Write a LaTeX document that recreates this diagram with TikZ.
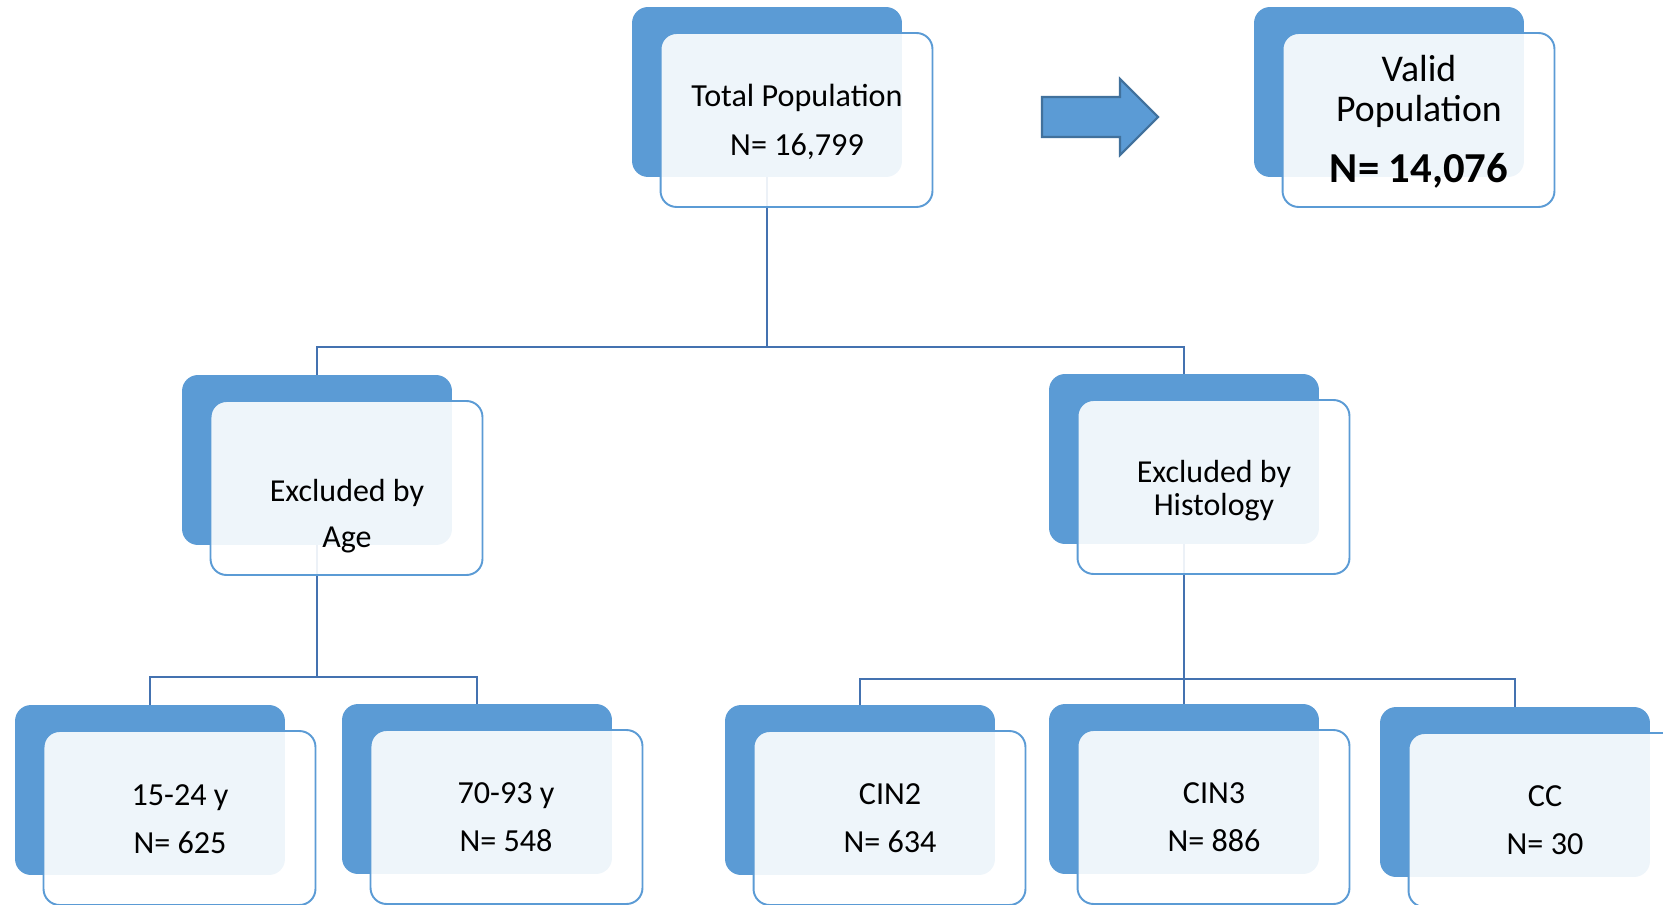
\documentclass[tikz,border=0pt]{standalone}
\usepackage{fontspec}
\setmainfont{Carlito}
\definecolor{boxblue}{RGB}{91,155,213}
\definecolor{linkblue}{RGB}{68,114,176}
\definecolor{arrowedge}{RGB}{65,113,156}

\begin{document}
\begin{tikzpicture}[
  x=0.02cm, y=-0.02cm,
  back/.style={fill=boxblue, rounded corners=0.32cm, minimum width=5.4cm,
    minimum height=3.4cm, inner sep=0pt, outer sep=0pt},
  front/.style={draw=boxblue, line width=1.1pt, fill=white, fill opacity=0.9,
    rounded corners=0.32cm, minimum width=5.44cm, minimum height=3.48cm,
    inner sep=0pt, outer sep=0pt},
  link/.style={draw=linkblue, line width=1.6pt},
  txt/.style={align=center, font=\fontsize{18.3}{27.5}\selectfont}
  ]
  \useasboundingbox (0,0) rectangle (1663,905);

  % back boxes
  \foreach \n/\x/\y in {total/767/92, valid/1389/92, age/317/460, hist/1184/459,
      ya/150/790, yb/477/789, cintwo/860/790, cinthree/1184/789, cc/1515/792} {
    \node[back] (back-\n) at (\x,\y) {};
  }

  % tree lines
  \path (back-total.south) ++(0,170) coordinate (busT);
  \draw[link] (back-total.south) -- (busT) -| (back-age.north);
  \draw[link] (busT) -| (back-hist.north);
  \path (back-age.south) ++(0,132) coordinate (busA);
  \draw[link] (back-age.south) -- (busA) -| (back-ya.north);
  \draw[link] (busA) -| (back-yb.north);
  \path (back-hist.south) ++(0,135) coordinate (busH);
  \draw[link] (back-hist.south) -- (busH) -| (back-cintwo.north);
  \draw[link] (busH) -| (back-cinthree.north);
  \draw[link] (busH) -| (back-cc.north);

  % front boxes
  \foreach \n in {total, valid, age, hist, ya, yb, cintwo, cinthree, cc} {
    \node[front] (\n) at ([shift={(29.5,28)}]back-\n.center) {};
  }

  % block arrow
  \draw[fill=boxblue, draw=arrowedge, line width=1.2pt]
    (1042,97) -- (1120,97) -- (1120,79) -- (1158,117) -- (1120,155)
    -- (1120,137) -- (1042,137) -- cycle;

  % texts
  \node[txt, font=\fontsize{18.3}{27.8}\selectfont] (totaltxt) at (797,122) {Total Population\\N= 16,799};
  \node[txt, font=\fontsize{21.5}{22.7}\selectfont] (validtxt) at (1419,91) {Valid\\Population};
  \node[font=\bfseries\fontsize{24.3}{27}\selectfont] (validn) at (1419,171) {N= 14,076};
  \node[txt, font=\fontsize{18.2}{26}\selectfont] (agetxt) at (347,516) {Excluded by\\Age};
  \node[txt, font=\fontsize{18.2}{18.8}\selectfont] (histtxt) at (1214,491) {Excluded by\\Histology};
  \node[txt] (yatxt) at (180,819) {15-24 y\\N= 625};
  \node[txt] (ybtxt) at (506,817) {70-93 y\\N= 548};
  \node[txt] (cintwotxt) at (890,818) {CIN2\\N= 634};
  \node[txt] (cinthreetxt) at (1214,817) {CIN3\\N= 886};
  \node[txt] (cctxt) at (1545,820) {CC\\N= 30};
\end{tikzpicture}
\end{document}
